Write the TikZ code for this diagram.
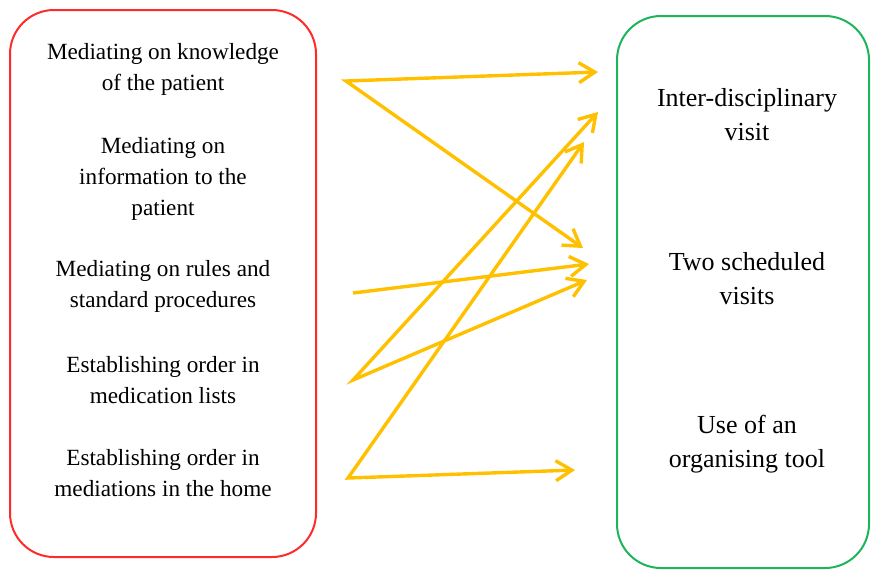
\documentclass[tikz,border=0pt]{standalone}
\usepackage{fontspec}
\setmainfont{Liberation Serif}
\usetikzlibrary{arrows.meta}
\definecolor{boxred}{HTML}{FF2A2A}
\definecolor{boxgreen}{HTML}{1DB45A}
\definecolor{arrowgold}{HTML}{FFC000}

\begin{document}
\begin{tikzpicture}[x=0.5pt,y=-0.5pt,
    panel/.style={draw,line width=1pt,rounded corners=22pt,inner sep=0pt},
    item/.style={align=center,inner sep=0pt,font=\fontsize{11.6}{15.5}\selectfont},
    result/.style={align=center,inner sep=0pt,font=\fontsize{13}{17}\selectfont},
    link/.style={arrowgold,line width=1.7pt,-{Straight Barb[length=8pt,width=10pt]}},
    twolink/.style={arrowgold,line width=1.7pt,{Straight Barb[length=8pt,width=10pt]}-{Straight Barb[length=8pt,width=10pt]}}]
    \useasboundingbox (0,0) rectangle (871,570);

    \node (tasks) [panel,draw=boxred,minimum width=153pt,minimum height=273.5pt] at (163,283.5) {};
    \node (means) [panel,draw=boxgreen,minimum width=126pt,minimum height=276pt] at (743,292) {};

    \node (knowledge) [item] at (163,69) {Mediating on knowledge\\of the patient};
    \node (information) [item] at (163,179) {Mediating on\\information to the\\patient};
    \node (rules) [item] at (163,286) {Mediating on rules and\\standard procedures};
    \node (lists) [item] at (163,380) {Establishing order in\\medication lists};
    \node (home) [item] at (163,473) {Establishing order in\\mediations in the home};

    \node (visit) [result] at (747,115) {Inter-disciplinary\\visit};
    \node (scheduled) [result] at (747,279) {Two scheduled\\visits};
    \node (tool) [result] at (747,444) {Use of an\\organising tool};

    \coordinate (s1) at (346,81);
    \coordinate (s2) at (353,293);
    \coordinate (s3) at (353,380);
    \coordinate (s4) at (348,478);
    \coordinate (t1) at (598,72);
    \coordinate (t2) at (598,112);
    \coordinate (t3) at (584,142);
    \coordinate (t4) at (583,248);
    \coordinate (t5) at (589,264);
    \coordinate (t6) at (587,280);
    \coordinate (t7) at (575,470);

    \draw[twolink] (t1) -- (s1) -- (t4);
    \draw[link] (s2) -- (t5);
    \draw[twolink] (t2) -- (s3) -- (t6);
    \draw[twolink] (t3) -- (s4) -- (t7);
\end{tikzpicture}
\end{document}
